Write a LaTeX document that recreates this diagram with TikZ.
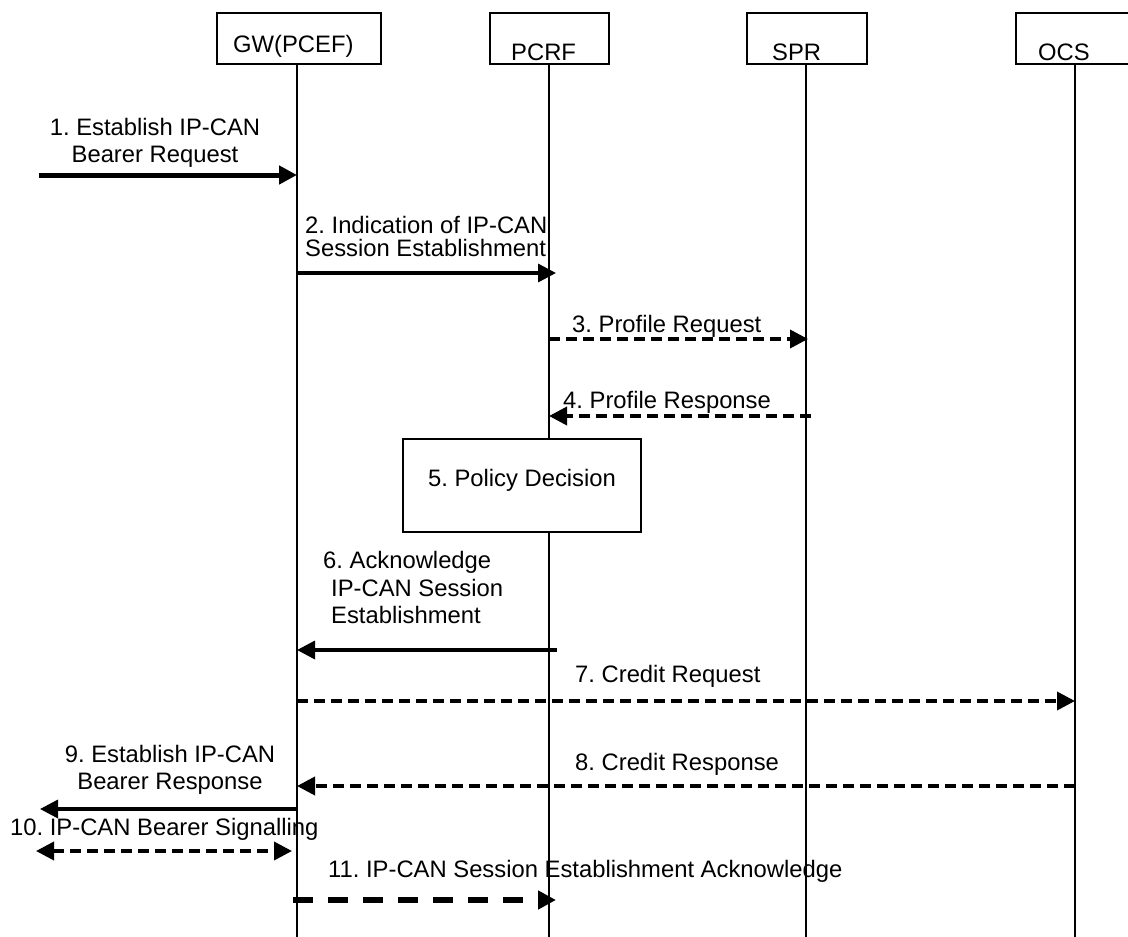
\documentclass[tikz,border=0pt]{standalone}
\usepackage{fontspec}
\setmainfont{Liberation Sans}
\usetikzlibrary{arrows.meta,positioning,calc}
\frenchspacing

\begin{document}
\begin{tikzpicture}[x=1bp,y=-1bp,>={Triangle[length=18bp,width=18bp]},
    every node/.style={font=\fontsize{23.8bp}{27bp}\selectfont,inner sep=0pt},
    entity/.style={draw,line width=2.4bp,minimum height=51bp},
    lifeline/.style={line width=2.4bp},
    msg/.style={->,line width=3.4bp},
    bigmsg/.style={->,line width=5bp},
    dashmsg/.style={->,line width=3.6bp,dash pattern=on 11bp off 6bp},
    longdash/.style={->,line width=5.5bp,dash pattern=on 20bp off 15bp},
    lbl/.style={anchor=base west}]
    \useasboundingbox (0,0) rectangle (1128,937);

    % entities
    \node[entity,minimum width=164bp] (gw)   at (299,38.5)  {};
    \node[entity,minimum width=119bp] (pcrf) at (549.5,38.5) {};
    \node[entity,minimum width=120bp] (spr)  at (807,38.5)  {};
    \node[entity,minimum width=130bp] (ocs)  at (1081,38.5) {};

    \node[lbl] (gwname)   at (233,52)  {GW(PCEF)};
    \node[lbl] (pcrfname) at (511,60)  {PCRF};
    \node[lbl] (sprname)  at (772,60)  {SPR};
    \node[lbl] (ocsname)  at (1038,60) {OCS};

    % lifelines
    \coordinate (gw-end)   at (297,937);
    \coordinate (pcrf-end) at (549,937);
    \coordinate (spr-end)  at (806,937);
    \coordinate (ocs-end)  at (1075,937);
    \foreach \e in {gw,pcrf,spr,ocs}
        \draw[lifeline] (\e.south -| \e-end) -- (\e-end);

    \node[draw,line width=2.4bp,fill=white,minimum width=238bp,minimum height=93bp,
          text height=12bp,text depth=11bp] (decision) at (522,485.5) {5. Policy Decision};

    % message end points
    \coordinate (ue1)   at (39,175);   \coordinate (gw1)   at (297,175);
    \coordinate (gw2)   at (297,273);  \coordinate (pcrf2) at (556,273);
    \coordinate (pcrf3) at (549,339);  \coordinate (spr3)  at (808,339);
    \coordinate (spr4)  at (811,416);  \coordinate (pcrf4) at (549,416);
    \coordinate (pcrf6) at (557,650);  \coordinate (gw6)   at (297,650);
    \coordinate (gw7)   at (297,701);  \coordinate (ocs7)  at (1075,701);
    \coordinate (ocs8)  at (1075,786); \coordinate (gw8)   at (297,786);
    \coordinate (gw9)   at (297,809);  \coordinate (ue9)   at (40,809);
    \coordinate (ue10)  at (36,851);   \coordinate (gw10)  at (292,851);
    \coordinate (gw11)  at (293,900);  \coordinate (pcrf11) at (556,900);

    \path (ue1)   edge[bigmsg]   (gw1)
          (gw2)   edge[msg]      (pcrf2)
          (pcrf3) edge[dashmsg]  (spr3)
          (spr4)  edge[dashmsg]  (pcrf4)
          (pcrf6) edge[msg]      (gw6)
          (gw7)   edge[dashmsg]  (ocs7)
          (ocs8)  edge[dashmsg]  (gw8)
          (gw9)   edge[msg]      (ue9)
          (ue10)  edge[dashmsg,<->] (gw10)
          (gw11)  edge[longdash] (pcrf11);

    % labels
    \node[anchor=north,align=center] (l1) at (155,118) {1. Establish IP-CAN\\Bearer Request};
    \node[anchor=north west,align=left] (l2) at (305,216) {2. Indication of IP-CAN\\[-4bp]Session Establishment};
    \node[lbl] (l3) at (572,332) {3. Profile Request};
    \node[lbl] (l4) at (563,408) {4. Profile Response};
    \node[anchor=north west,align=left] (l6) at (323,551)
        {6. Acknowledge\\[1bp]\hspace*{8bp}IP-CAN Session\\\hspace*{8bp}Establishment};
    \node[lbl] (l7) at (575,682) {7. Credit Request};
    \node[lbl] (l8) at (575,770) {8. Credit Response};
    \node[anchor=north,align=center] (l9) at (170,745) {9. Establish IP-CAN\\Bearer Response};
    \node[lbl] (l10) at (10,835) {10. IP-CAN Bearer Signalling};
    \node[lbl] (l11) at (328,877) {11. IP-CAN Session Establishment Acknowledge};
\end{tikzpicture}
\end{document}
